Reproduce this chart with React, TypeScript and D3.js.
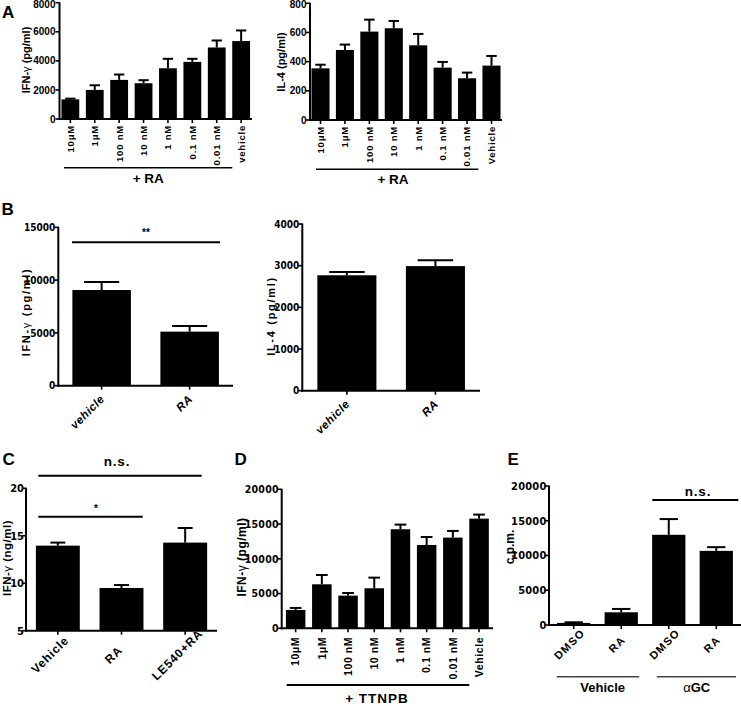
import React from 'react';
import * as d3 from 'd3';

const SANS = "'Liberation Sans', Arial, sans-serif";
const NARROW = "'Liberation Sans Narrow', 'Arial Narrow', 'DejaVu Sans Condensed', 'Liberation Sans', sans-serif";

// ---- Panel A ----
const aCategoriesLeft = ['10μM', '1μM', '100 nM', '10 nM', '1 nM', '0.1 nM', '0.01 nM', 'vehicle'];
const aCategoriesRight = ['10μM', '1μM', '100 nM', '10 nM', '1 nM', '0.1 nM', '0.01 nM', 'Vehicle'];
const aIfnValues = [1350, 2000, 2690, 2460, 3490, 3930, 4920, 5360];
const aIfnSem = [50, 320, 370, 210, 650, 210, 480, 730];
const aIl4Values = [354, 480, 606, 629, 512, 359, 286, 373];
const aIl4Sem = [25, 37, 82, 50, 78, 39, 39, 66];
const aIfnTicks = [0, 2000, 4000, 6000, 8000];
const aIl4Ticks = [0, 200, 400, 600, 800];

// ---- Panel B ----
const bCategories = ['vehicle', 'RA'];
const bIfnValues = [9060, 5120];
const bIfnSem = [760, 530];
const bIl4Values = [2770, 2990];
const bIl4Sem = [80, 140];
const bIfnTicks = [0, 5000, 10000, 15000];
const bIl4Ticks = [0, 1000, 2000, 3000, 4000];

// ---- Panel C ----
const cCategories = ['Vehicle', 'RA', 'LE540+RA'];
const cValues = [13.96, 9.5, 14.28];
const cSem = [0.32, 0.31, 1.54];
const cTicks = [5, 10, 15, 20];

// ---- Panel D ----
const dCategories = ['10μM', '1μM', '100 nM', '10 nM', '1 nM', '0.1 nM', '0.01 nM', 'Vehicle'];
const dValues = [2640, 6330, 4700, 5760, 14250, 11990, 13050, 15780];
const dSem = [290, 1340, 380, 1530, 670, 1150, 960, 580];
const dTicks = [0, 5000, 10000, 15000, 20000];

// ---- Panel E ----
const eCategories = ['DMSO', 'RA', 'DMSO', 'RA'];
const eValues = [300, 1830, 12980, 10670];
const eSem = [90, 480, 2260, 530];
const eTicks = [0, 5000, 10000, 15000, 20000];

type XLab = {
  mode: 'vert' | 'diag';
  size: number;
  italic?: boolean;
  spacing?: number;
  anchor?: 'end' | 'middle';
  dx: number;
  dy: number;
  family?: string;
};

type PanelProps = {
  cats: string[];
  vals: number[];
  sems: number[];
  x0: number;
  x1: number;
  pi: number;
  po: number;
  domain: [number, number];
  yr: [number, number];
  ticks: number[];
  capFrac: number;
  tickFamily: string;
  tickSize: number;
  tickSpacing?: number;
  tickGap?: number;
  xLab: XLab;
};

function BarPanel(p: PanelProps) {
  const idx = d3.range(p.cats.length);
  const x = d3.scaleBand<number>().domain(idx).range([p.x0, p.x1]).paddingInner(p.pi).paddingOuter(p.po);
  const y = d3.scaleLinear().domain(p.domain).range(p.yr);
  const bw = x.bandwidth();
  const yb = p.yr[0];
  const yt = y(p.domain[1]);
  const cap = bw * p.capFrac;
  const gap = p.tickGap ?? 4;
  return (
    <g>
      {idx.map((i) => (
        <rect key={'b' + i} x={x(i)} y={y(p.vals[i])} width={bw} height={yb - y(p.vals[i])} fill="#000" />
      ))}
      {idx.map((i) => {
        const cx = (x(i) as number) + bw / 2;
        const top = y(p.vals[i] + p.sems[i]);
        return (
          <g key={'e' + i} stroke="#000" strokeWidth={2}>
            <line x1={cx} x2={cx} y1={y(p.vals[i])} y2={top} />
            <line x1={cx - cap / 2} x2={cx + cap / 2} y1={top} y2={top} />
          </g>
        );
      })}
      <line x1={p.x0} x2={p.x0} y1={yb + 1} y2={yt - 0.5} stroke="#000" strokeWidth={2} />
      <line x1={p.x0 - 1} x2={p.x1} y1={yb} y2={yb} stroke="#000" strokeWidth={2} />
      {p.ticks.map((t) => (
        <g key={'t' + t}>
          <line x1={p.x0 - 4} x2={p.x0} y1={y(t)} y2={y(t)} stroke="#000" strokeWidth={1.6} />
          <text
            x={p.x0 - gap}
            y={Math.max(y(t), 4.5)}
            dy="0.36em"
            textAnchor="end"
            fontFamily={p.tickFamily}
            fontWeight="bold"
            fontSize={p.tickSize}
            letterSpacing={p.tickSpacing ?? 0}
          >
            {t}
          </text>
        </g>
      ))}
      {idx.map((i) => {
        const cx = (x(i) as number) + bw / 2;
        const L = p.xLab;
        return (
          <g key={'x' + i}>
            <line x1={cx} x2={cx} y1={yb} y2={yb + 4} stroke="#000" strokeWidth={1.6} />
            {L.mode === 'vert' ? (
              <text
                transform={`translate(${cx + L.dx},${yb + L.dy}) rotate(-90)`}
                textAnchor="end"
                dy="0.36em"
                fontFamily={L.family ?? SANS}
                fontWeight="bold"
                fontSize={L.size}
                letterSpacing={L.spacing ?? 0}
              >
                {p.cats[i]}
              </text>
            ) : (
              <text
                transform={`translate(${cx + L.dx},${yb + L.dy}) rotate(-45)`}
                textAnchor={L.anchor ?? 'end'}
                fontFamily={L.family ?? SANS}
                fontWeight="bold"
                fontStyle={L.italic ? 'italic' : 'normal'}
                fontSize={L.size}
                letterSpacing={L.spacing ?? 0}
              >
                {p.cats[i]}
              </text>
            )}
          </g>
        );
      })}
    </g>
  );
}

function YLabel({ x, y, size, spacing, text, unit }: { x: number; y: number; size: number; spacing?: number; text: string; unit: string }) {
  return (
    <text
      transform={`translate(${x},${y}) rotate(-90)`}
      textAnchor="middle"
      fontFamily={SANS}
      fontWeight="bold"
      fontSize={size}
      letterSpacing={spacing ?? 0}
    >
      {text}
      <tspan fontWeight="normal">γ</tspan>
      {unit}
    </text>
  );
}

function Letter({ x, y, t }: { x: number; y: number; t: string }) {
  return (
    <text x={x} y={y} fontFamily={SANS} fontWeight="bold" fontSize={17}>
      {t}
    </text>
  );
}

export default function App() {
  return (
    <svg
      width={741}
      height={706}
      viewBox="0 0 741 706"
      style={{ position: 'absolute', left: 0, top: 0, background: '#fff' }}
    >
      <rect x={0} y={0} width={741} height={706} fill="#fff" />

      {/* Panel A */}
      <Letter x={2} y={18} t="A" />
      <BarPanel
        cats={aCategoriesLeft} vals={aIfnValues} sems={aIfnSem}
        x0={59.5} x1={252} pi={0.27} po={0.08}
        domain={[0, 8000]} yr={[119, 2.7]} ticks={aIfnTicks} capFrac={0.58}
        tickFamily={SANS} tickSize={10} tickGap={4}
        xLab={{ mode: 'vert', size: 9.5, spacing: 0.8, dx: 0, dy: 6 }}
      />
      <YLabel x={30} y={60} size={11} text="IFN-" unit=" (pg/ml)" />
      <line x1={64} x2={232.3} y1={167.7} y2={167.7} stroke="#000" strokeWidth={1.6} />
      <text x={148.3} y={183} textAnchor="middle" fontFamily={SANS} fontWeight="bold" fontSize={13.5}>+ RA</text>

      <BarPanel
        cats={aCategoriesRight} vals={aIl4Values} sems={aIl4Sem}
        x0={310} x1={502} pi={0.26} po={0.06}
        domain={[0, 800]} yr={[120, 3.3]} ticks={aIl4Ticks} capFrac={0.58}
        tickFamily={SANS} tickSize={10} tickGap={3.5}
        xLab={{ mode: 'vert', size: 9.5, spacing: 0.8, dx: 0, dy: 6 }}
      />
      <text transform="translate(285,62) rotate(-90)" textAnchor="middle" fontFamily={SANS} fontWeight="bold" fontSize={11}>IL-4 (pg/ml)</text>
      <line x1={316} x2={478.3} y1={169.3} y2={169.3} stroke="#000" strokeWidth={1.6} />
      <text x={393} y={184} textAnchor="middle" fontFamily={SANS} fontWeight="bold" fontSize={13.5}>+ RA</text>

      {/* Panel B */}
      <Letter x={1.5} y={215} t="B" />
      <BarPanel
        cats={bCategories} vals={bIfnValues} sems={bIfnSem}
        x0={58.3} x1={233} pi={0.335} po={0.16}
        domain={[0, 15000]} yr={[385.7, 227.3]} ticks={bIfnTicks} capFrac={0.6}
        tickFamily={NARROW} tickSize={10} tickSpacing={0} tickGap={3}
        xLab={{ mode: 'diag', size: 11.5, italic: true, spacing: 0.5, anchor: 'end', dx: 3.5, dy: 14 }}
      />
      <YLabel x={29.5} y={312} size={11} spacing={1.7} text="IFN-" unit=" (pg/ml)" />
      <line x1={72} x2={220} y1={242.3} y2={242.3} stroke="#000" strokeWidth={2} />
      <text x={146} y={236} textAnchor="middle" fontFamily={SANS} fontWeight="bold" fontSize={10}>**</text>

      <BarPanel
        cats={bCategories} vals={bIl4Values} sems={bIl4Sem}
        x0={302.3} x1={480} pi={0.333} po={0.17}
        domain={[0, 4000]} yr={[390.7, 224]} ticks={bIl4Ticks} capFrac={0.6}
        tickFamily={NARROW} tickSize={10} tickSpacing={0} tickGap={3}
        xLab={{ mode: 'diag', size: 11.5, italic: true, spacing: 0.5, anchor: 'end', dx: 3.5, dy: 14 }}
      />
      <text transform="translate(275,316) rotate(-90)" textAnchor="middle" fontFamily={SANS} fontWeight="bold" fontSize={11} letterSpacing={1.7}>IL-4 (pg/ml)</text>

      {/* Panel C */}
      <Letter x={2.5} y={465} t="C" />
      <BarPanel
        cats={cCategories} vals={cValues} sems={cSem}
        x0={26} x1={217} pi={0.31} po={0.155}
        domain={[5, 20]} yr={[630.7, 488.3]} ticks={cTicks} capFrac={0.34}
        tickFamily={NARROW} tickSize={11} tickGap={2}
        xLab={{ mode: 'diag', size: 12, spacing: 0.8, anchor: 'middle', dx: -5, dy: 27 }}
      />
      <YLabel x={10.5} y={558} size={11.5} spacing={0.5} text="IFN-" unit=" (ng/ml)" />
      <line x1={38.3} x2={201.7} y1={475.7} y2={475.7} stroke="#000" strokeWidth={2} />
      <text x={117} y={466} textAnchor="middle" fontFamily={SANS} fontWeight="bold" fontSize={13.5} letterSpacing={0.8}>n.s.</text>
      <line x1={38.3} x2={142.7} y1={516.7} y2={516.7} stroke="#000" strokeWidth={2} />
      <text x={96} y={512} textAnchor="middle" fontFamily={SANS} fontWeight="bold" fontSize={10}>*</text>

      {/* Panel D */}
      <Letter x={234.5} y={465} t="D" />
      <BarPanel
        cats={dCategories} vals={dValues} sems={dSem}
        x0={281.7} x1={493} pi={0.256} po={0.16}
        domain={[0, 20000]} yr={[628.3, 489.3]} ticks={dTicks} capFrac={0.6}
        tickFamily={NARROW} tickSize={10.5} tickSpacing={0.2} tickGap={3}
        xLab={{ mode: 'vert', size: 10.5, spacing: 0.6, dx: 0, dy: 8.5 }}
      />
      <YLabel x={246} y={557} size={12} spacing={0.5} text="IFN-" unit=" (pg/ml)" />
      <line x1={286.7} x2={469.3} y1={685} y2={685} stroke="#000" strokeWidth={1.8} />
      <text x={377} y={703} textAnchor="middle" fontFamily={SANS} fontWeight="bold" fontSize={13.5} letterSpacing={1}>+ TTNPB</text>

      {/* Panel E */}
      <Letter x={507.5} y={465} t="E" />
      <BarPanel
        cats={eCategories} vals={eValues} sems={eSem}
        x0={549} x1={741} pi={0.3} po={0.17}
        domain={[0, 20000]} yr={[625, 486]} ticks={eTicks} capFrac={0.55}
        tickFamily={NARROW} tickSize={11} tickSpacing={0.2} tickGap={2.5}
        xLab={{ mode: 'diag', size: 11, spacing: 1.2, anchor: 'middle', dx: -1.5, dy: 22 }}
      />
      <text transform="translate(514,547) rotate(-90)" textAnchor="middle" fontFamily={SANS} fontWeight="bold" fontSize={12}>c.p.m.</text>
      <line x1={652.3} x2={738.3} y1={500} y2={500} stroke="#000" strokeWidth={2} />
      <text x={698} y={496} textAnchor="middle" fontFamily={SANS} fontWeight="bold" fontSize={13.5} letterSpacing={0.8}>n.s.</text>
      <line x1={556.7} x2={639.3} y1={676.7} y2={676.7} stroke="#444" strokeWidth={1.5} />
      <line x1={656.7} x2={736} y1={676.7} y2={676.7} stroke="#444" strokeWidth={1.5} />
      <text x={602.7} y={692} textAnchor="middle" fontFamily={SANS} fontWeight="bold" fontSize={13}>Vehicle</text>
      <text x={696.7} y={692} textAnchor="middle" fontFamily={SANS} fontSize={13}>
        α<tspan fontWeight="bold">GC</tspan>
      </text>
    </svg>
  );
}
